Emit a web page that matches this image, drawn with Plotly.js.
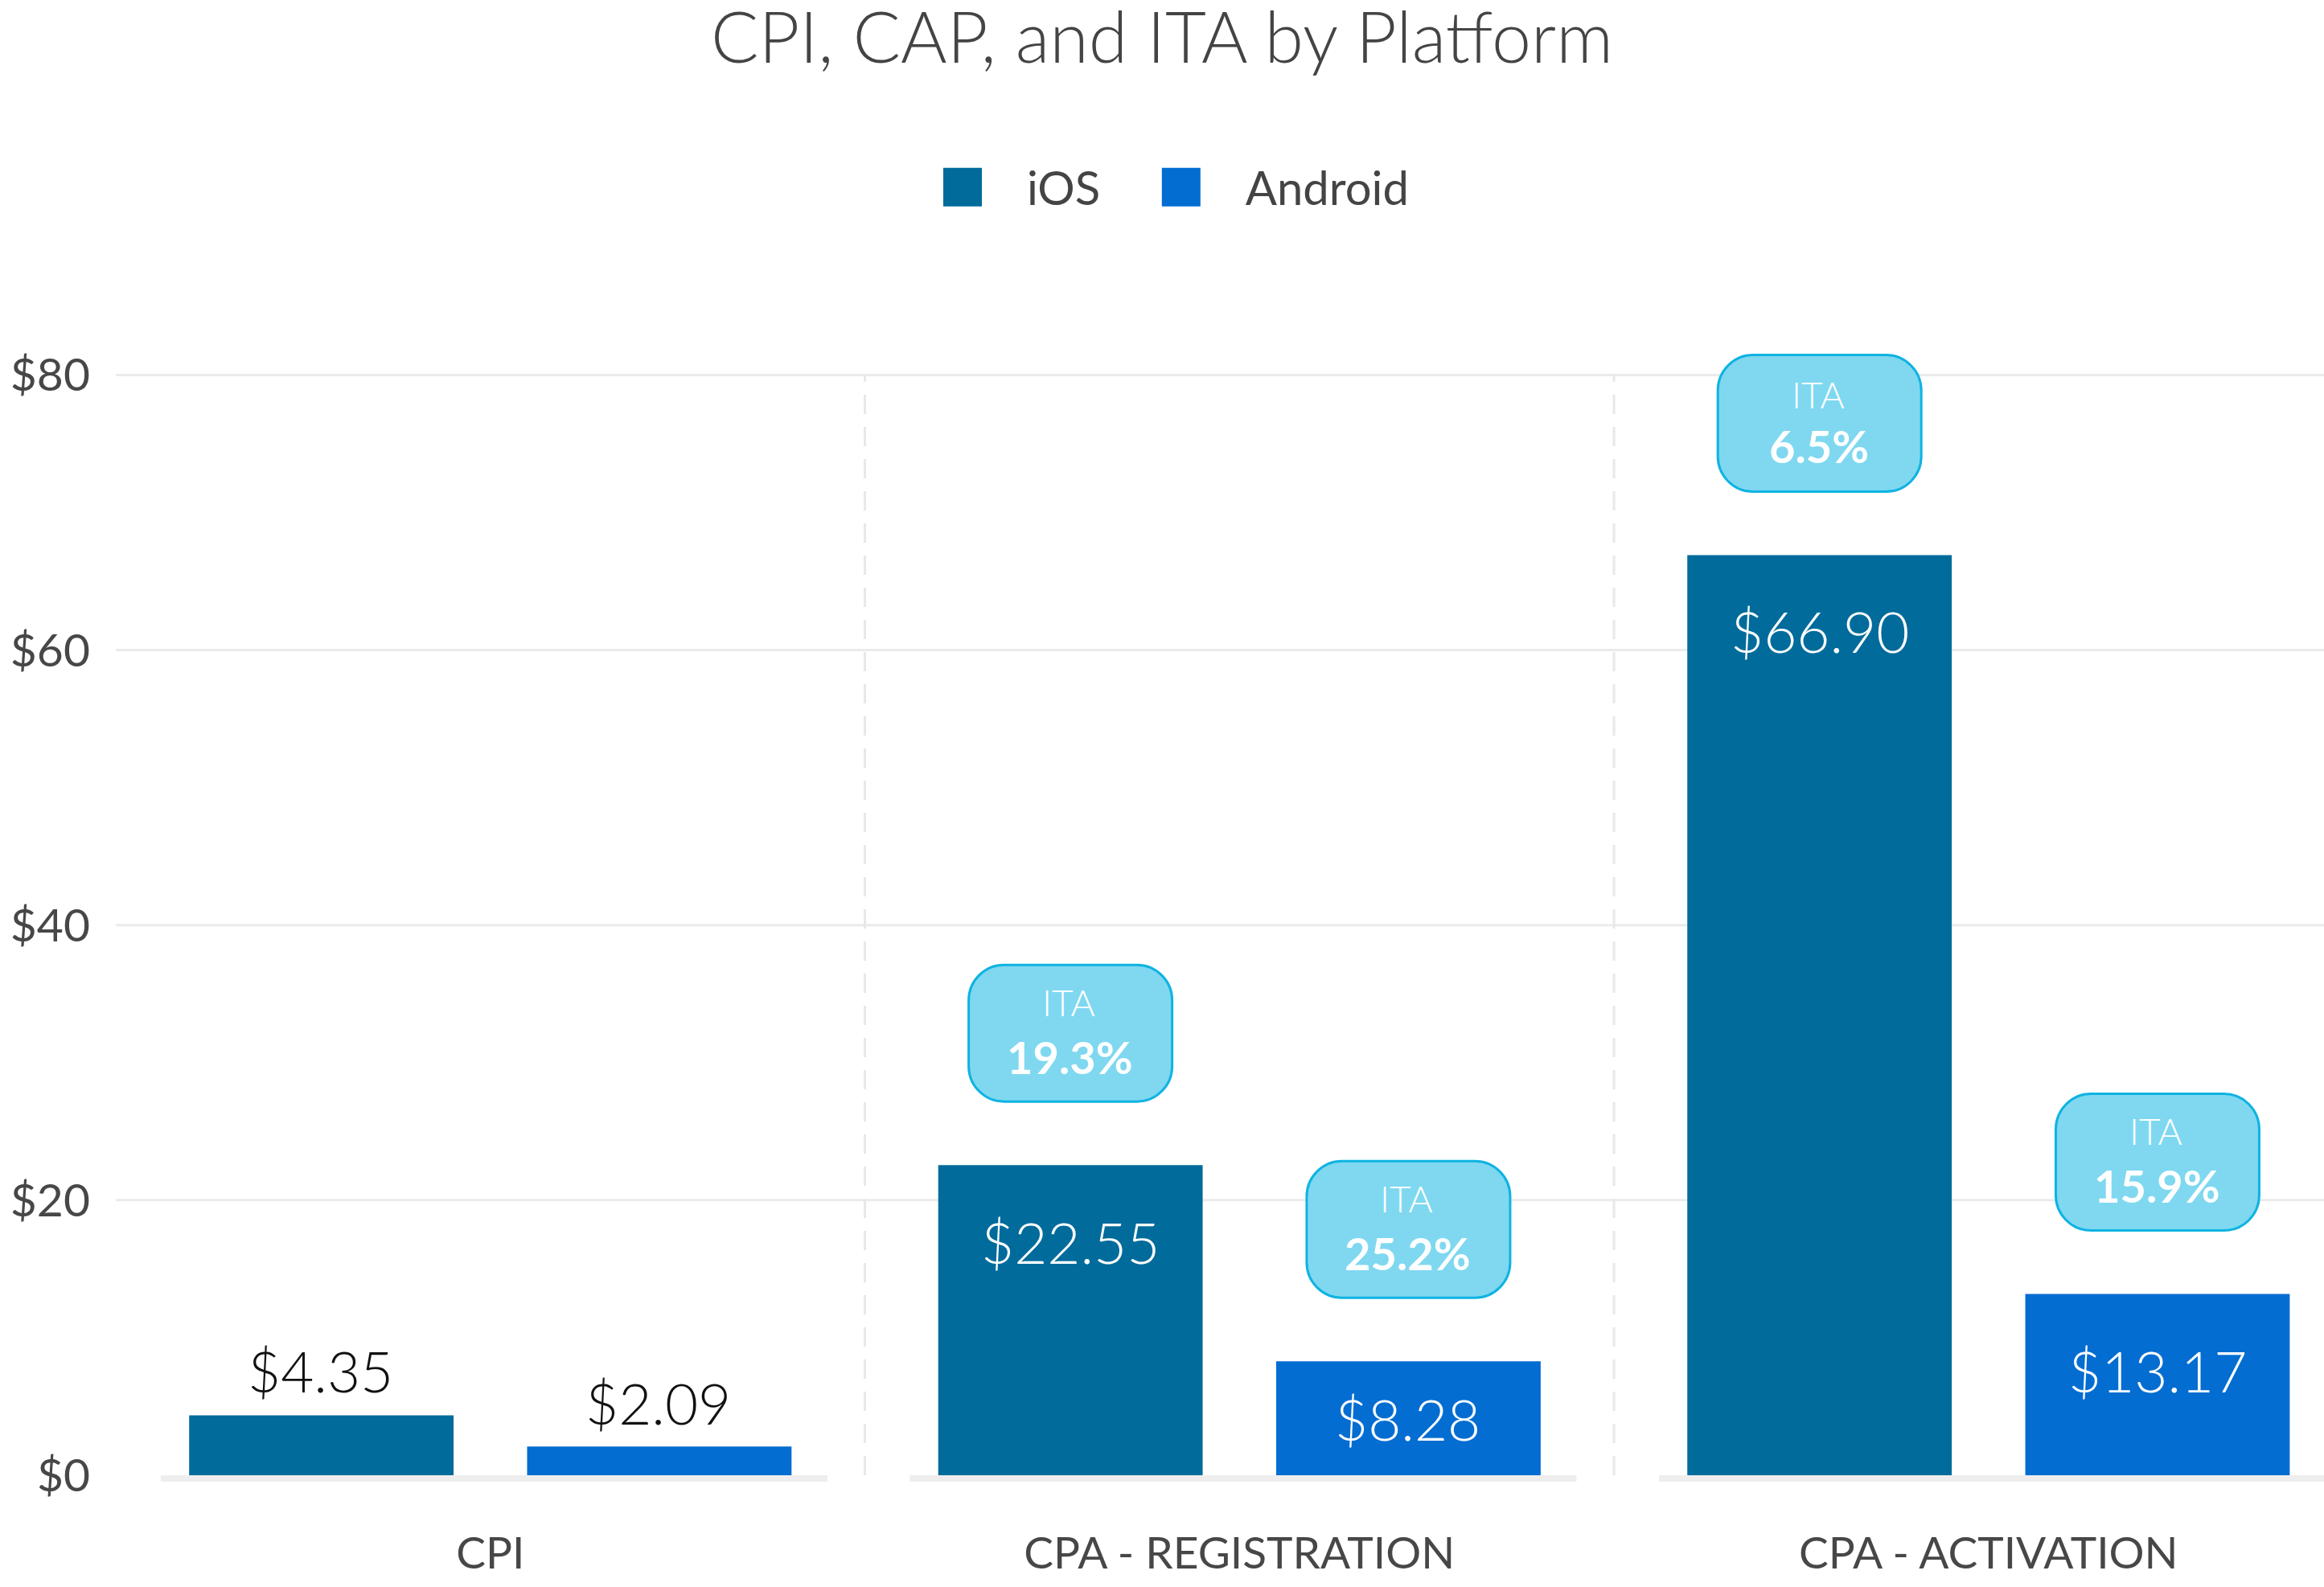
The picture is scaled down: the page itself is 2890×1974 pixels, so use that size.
<!DOCTYPE html>
<html>
<head>
<meta charset="utf-8">
<script src="https://cdn.plot.ly/plotly-3.0.1.min.js"></script>
<style>
  html, body { margin: 0; padding: 0; background: #ffffff; overflow: hidden; }
  #wrap { width: 2890px; height: 1974px; overflow: hidden; position: relative; background: #fff; }
  #chart { width: 722.5px; height: 493.5px; transform: scale(4); transform-origin: 0 0; }
</style>
</head>
<body>
<div id="wrap"><div id="chart"></div></div>
<script>
// ---------------- data ----------------
const categories = ["CPI", "CPA - REGISTRATION", "CPA - ACTIVATION"];
const seriesNames = ["iOS", "Android"];
const iosValues = [4.35, 22.55, 66.90];
const androidValues = [2.09, 8.28, 13.17];
const iosITA = [null, 19.3, 6.5];
const androidITA = [null, 25.2, 15.9];
const yTickValues = [0, 20, 40, 60, 80];
const yTickLabels = ["$0", "$20", "$40", "$60", "$80"];
const chartTitle = "CPI, CAP, and ITA by Platform";

// ---------------- styling ----------------
const S = 4;                       // whole figure drawn at 1/4 and scaled up
const px = v => v / S;             // convert final pixels to internal pixels
const W = 2890 / S, H = 1974 / S;
const FONT = "Lato, 'Open Sans', sans-serif";
const colors = ["#016b9b", "#036dd1"];
const textGrey = "#474747";

const yRange = [-1, 90];
const marginTop = 281.5, marginBottom = 122.75, marginLeft = 143;
const plotHpx = 1974 - marginTop - marginBottom;
const ppu = plotHpx / (yRange[1] - yRange[0]);   // final pixels per unit

const bargap = 0.0976, bargroupgap = 0.2176;
const slot = (1 - bargap) / 2;
const barOffsets = [-slot / 2, slot / 2];

const seriesValues = [iosValues, androidValues];
const seriesITA = [iosITA, androidITA];

const traces = seriesNames.map((name, s) => ({
  type: "bar",
  name: name,
  x: categories,
  y: seriesValues[s],
  marker: { color: colors[s], line: { width: 0 } },
  hoverinfo: "skip"
}));

const shapes = [];
const annotations = [];

// horizontal gridlines (not at zero)
yTickValues.filter(v => v > 0).forEach(v => {
  shapes.push({
    type: "line", xref: "paper", x0: 0, x1: 1, yref: "y", y0: v, y1: v,
    line: { color: "#ebebeb", width: px(3) }, layer: "below"
  });
});
// baseline segments per category
categories.forEach((c, i) => {
  shapes.push({
    type: "rect", xref: "x", x0: i - 0.44, x1: i + 0.45,
    yref: "y", ysizemode: "pixel", yanchor: 0, y0: 0, y1: -px(8),
    fillcolor: "#eeeeee", line: { width: 0 }, layer: "below"
  });
});
// dashed separators between categories
for (let i = 0; i < categories.length - 1; i++) {
  shapes.push({
    type: "line", xref: "x", x0: i + 0.5, x1: i + 0.5, yref: "y",
    y0: 0, y1: yTickValues[yTickValues.length - 1],
    line: { color: "#e8e8e8", width: px(3), dash: "6px,4px" }, layer: "below"
  });
}

// rounded badge path in pixel units (y up)
function roundedRect(hw, b, t, r) {
  const k = 0.5523 * r;
  const f = n => n.toFixed(3);
  return "M" + f(-hw + r) + "," + f(b) +
    " L" + f(hw - r) + "," + f(b) +
    " C" + f(hw - r + k) + "," + f(b) + " " + f(hw) + "," + f(b + r - k) + " " + f(hw) + "," + f(b + r) +
    " L" + f(hw) + "," + f(t - r) +
    " C" + f(hw) + "," + f(t - r + k) + " " + f(hw - r + k) + "," + f(t) + " " + f(hw - r) + "," + f(t) +
    " L" + f(-hw + r) + "," + f(t) +
    " C" + f(-hw + r - k) + "," + f(t) + " " + f(-hw) + "," + f(t - r + k) + " " + f(-hw) + "," + f(t - r) +
    " L" + f(-hw) + "," + f(b + r) +
    " C" + f(-hw) + "," + f(b + r - k) + " " + f(-hw + r - k) + "," + f(b) + " " + f(-hw + r) + "," + f(b) + " Z";
}

seriesNames.forEach((name, s) => {
  categories.forEach((c, i) => {
    const v = seriesValues[s][i];
    const xPos = i + barOffsets[s];
    const barPx = v * ppu;
    // value label
    let y = v, yshift, color;
    if (barPx < 100) { yshift = px(55); color = "#111111"; }
    else if (barPx < 186) { y = v / 2; yshift = 0; color = "#ffffff"; }
    else { yshift = -px(93); color = "#ffffff"; }
    annotations.push({
      x: xPos, y: y, xref: "x", yref: "y", yshift: yshift, yanchor: "middle",
      text: "$" + v.toFixed(2), showarrow: false,
      font: { family: FONT, size: px(71), color: color, weight: 300 }
    });
    // ITA badge
    const ita = seriesITA[s][i];
    if (ita !== null && ita !== undefined) {
      shapes.push({
        type: "path", xref: "x", yref: "y",
        xsizemode: "pixel", ysizemode: "pixel", xanchor: xPos, yanchor: v,
        path: roundedRect(px(126.5), px(79), px(249), px(44)),
        fillcolor: "#7fd8f0", line: { color: "#0fb3e2", width: px(3) }, layer: "above"
      });
      annotations.push({
        x: xPos, y: v, xref: "x", yref: "y", yshift: px(202), yanchor: "middle",
        text: "ITA", showarrow: false,
        font: { family: FONT, size: px(46), color: "#ffffff", weight: 300 }
      });
      annotations.push({
        x: xPos, y: v, xref: "x", yref: "y", yshift: px(135), yanchor: "middle",
        text: "<b>" + ita.toFixed(1) + "%</b>", showarrow: false,
        font: { family: FONT, size: px(56), color: "#ffffff", weight: 700 }
      });
    }
  });
});

const layout = {
  width: W, height: H, autosize: false,
  paper_bgcolor: "#ffffff", plot_bgcolor: "#ffffff",
  font: { family: FONT, color: textGrey, size: px(52) },
  margin: { l: px(marginLeft), r: 0, t: px(marginTop), b: px(marginBottom), pad: 0 },
  title: {
    text: chartTitle, x: 0.5, xanchor: "center", xref: "container",
    y: 1 - 16 / 1974, yanchor: "top", yref: "container",
    pad: { t: 0, b: 0, l: 0, r: 0 },
    font: { family: FONT, size: px(88), color: "#444444", weight: 300 }
  },
  showlegend: true,
  legend: {
    orientation: "h", xref: "container", x: 0.5, xanchor: "center",
    yref: "container", y: 1 - 233 / 1974, yanchor: "middle",
    font: { family: FONT, size: px(58), color: "#444444" },
    bgcolor: "rgba(0,0,0,0)", traceorder: "normal"
  },
  barmode: "group", bargap: bargap, bargroupgap: bargroupgap,
  xaxis: {
    type: "category", range: [-0.5, 2.45], showgrid: false, zeroline: false, showline: false,
    ticks: "", ticklabelstandoff: px(40), fixedrange: true,
    tickfont: { family: FONT, size: px(55), color: textGrey }
  },
  yaxis: {
    range: yRange, tickmode: "array", tickvals: yTickValues, ticktext: yTickLabels,
    showgrid: false, zeroline: false, showline: false, ticks: "",
    ticklabelstandoff: px(28), fixedrange: true,
    tickfont: { family: FONT, size: px(57), color: textGrey }
  },
  shapes: shapes,
  annotations: annotations
};

Plotly.newPlot("chart", traces, layout, { displayModeBar: false, staticPlot: true, responsive: false });
</script>
</body>
</html>
